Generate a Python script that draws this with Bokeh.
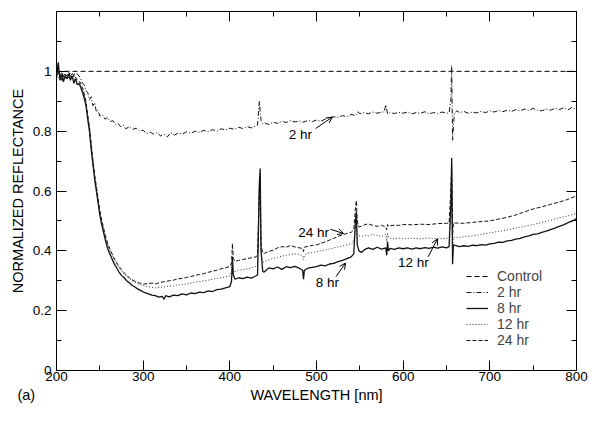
from bokeh.plotting import figure
from bokeh.models import (Range1d, LinearAxis, FixedTicker, Legend, LegendItem,
                          Label, Arrow, OpenHead)
from bokeh.embed import file_html
from bokeh.resources import INLINE

FONT = "Liberation Sans"

# ---------------- data ----------------
control_wl = [200, 800]
control_r = [1.0, 1.0]

hr2_wl = [200, 202, 204, 206, 208, 210, 212, 214, 216, 218, 220, 222, 224, 226, 228, 230,
          232, 234, 236, 238, 240, 242, 244, 246, 248, 250, 253, 256, 259, 262, 265, 268,
          271, 274, 277, 280, 284, 288, 292, 296, 300, 304, 308, 312, 316, 320, 324, 328,
          332, 336, 340, 345, 350, 355, 360, 365, 370, 375, 380, 385, 390, 395, 400, 405,
          410, 415, 420, 425, 430, 432, 434, 436, 438, 440, 445, 450, 455, 460, 465, 470,
          475, 480, 485, 490, 495, 500, 505, 510, 515, 520, 525, 530, 535, 540, 545, 548,
          550, 555, 560, 565, 570, 575, 578, 580, 582, 585, 590, 595, 600, 605, 610, 615,
          620, 625, 630, 635, 640, 645, 650, 653, 655, 656, 657, 659, 662, 665, 670, 675,
          680, 685, 690, 695, 700, 705, 710, 715, 720, 725, 730, 735, 740, 745, 750, 755,
          760, 765, 770, 775, 780, 785, 790, 795, 800]
hr2_r = [0.99, 1.01, 0.98, 0.995, 0.975, 0.99, 0.985, 1.0, 0.98, 0.995, 0.985, 1.0, 0.99, 0.985, 0.975, 0.96,
         0.955, 0.935, 0.93, 0.905, 0.915, 0.885, 0.895, 0.865, 0.87, 0.85, 0.855, 0.84, 0.845, 0.832, 0.835, 0.822,
         0.826, 0.815, 0.82, 0.808, 0.815, 0.806, 0.81, 0.80, 0.803, 0.792, 0.797, 0.79, 0.795, 0.784, 0.79, 0.781,
         0.795, 0.787, 0.793, 0.79, 0.798, 0.793, 0.80, 0.796, 0.803, 0.798, 0.805, 0.80, 0.808, 0.804, 0.81, 0.806,
         0.813, 0.809, 0.815, 0.811, 0.818, 0.82, 0.90, 0.835, 0.825, 0.828, 0.822, 0.83, 0.826, 0.833, 0.829, 0.835,
         0.831, 0.834, 0.83, 0.836, 0.832, 0.837, 0.833, 0.84, 0.845, 0.848, 0.846, 0.852, 0.849, 0.856, 0.852, 0.865,
         0.858, 0.862, 0.858, 0.864, 0.86, 0.863, 0.865, 0.888, 0.858, 0.862, 0.859, 0.863, 0.86, 0.864, 0.858, 0.862,
         0.86, 0.865, 0.858, 0.862, 0.859, 0.864, 0.86, 0.862, 0.90, 1.02, 0.77, 0.86, 0.868, 0.862, 0.866, 0.86,
         0.864, 0.861, 0.866, 0.862, 0.868, 0.864, 0.869, 0.865, 0.87, 0.866, 0.872, 0.868, 0.874, 0.869, 0.876, 0.87,
         0.868, 0.874, 0.87, 0.876, 0.872, 0.878, 0.871, 0.88, 0.872]

hr8_wl = [200, 202, 204, 206, 208, 210, 212, 214, 216, 218, 220, 222, 224, 226, 228, 230,
          232, 234, 236, 238, 240, 242, 244, 246, 248, 250, 252, 254, 256, 258, 260, 263,
          266, 269, 272, 275, 278, 281, 284, 287, 290, 294, 298, 302, 306, 310, 314, 318,
          322, 324, 326, 330, 335, 340, 345, 350, 355, 360, 365, 370, 375, 380, 385, 390,
          395, 400, 402, 403, 404, 406, 410, 415, 420, 425, 430, 432, 434, 435, 436, 438,
          440, 445, 450, 455, 460, 465, 470, 475, 480, 484, 485, 486, 490, 495, 500, 505,
          510, 515, 520, 525, 530, 535, 540, 543, 545, 546, 547, 549, 552, 556, 560, 565,
          570, 575, 580, 581, 582, 583, 585, 590, 595, 600, 605, 610, 615, 620, 625, 630,
          635, 640, 645, 650, 653, 655, 656, 657, 658, 660, 665, 670, 675, 680, 685, 690,
          695, 700, 705, 710, 715, 720, 725, 730, 735, 740, 745, 750, 755, 760, 765, 770,
          775, 780, 785, 790, 795, 800]
hr8_r = [0.98, 1.03, 0.97, 0.99, 0.965, 0.985, 0.975, 0.99, 0.97, 0.985, 0.96, 0.975, 0.955, 0.96, 0.945, 0.93,
         0.91, 0.885, 0.84, 0.80, 0.74, 0.69, 0.64, 0.60, 0.56, 0.52, 0.49, 0.465, 0.44, 0.418, 0.40, 0.38,
         0.36, 0.345, 0.33, 0.318, 0.31, 0.30, 0.293, 0.285, 0.28, 0.272, 0.266, 0.26, 0.256, 0.252, 0.25, 0.245,
         0.248, 0.238, 0.25, 0.246, 0.252, 0.25, 0.256, 0.253, 0.259, 0.257, 0.262, 0.26, 0.266, 0.264, 0.27, 0.272,
         0.276, 0.28, 0.30, 0.38, 0.32, 0.305, 0.31, 0.307, 0.312, 0.309, 0.316, 0.32, 0.62, 0.675, 0.40, 0.33,
         0.33, 0.343, 0.34, 0.346, 0.338, 0.347, 0.344, 0.348, 0.342, 0.335, 0.305, 0.335, 0.342, 0.345, 0.347, 0.352,
         0.35, 0.356, 0.358, 0.364, 0.368, 0.374, 0.38, 0.39, 0.50, 0.53, 0.42, 0.40, 0.395, 0.405, 0.41, 0.405,
         0.412, 0.406, 0.41, 0.385, 0.43, 0.40, 0.408, 0.405, 0.41, 0.407, 0.41, 0.406, 0.41, 0.407, 0.411, 0.408,
         0.412, 0.409, 0.413, 0.41, 0.414, 0.55, 0.71, 0.355, 0.42, 0.418, 0.414, 0.417, 0.415, 0.419, 0.417, 0.421,
         0.419, 0.423, 0.425, 0.429, 0.428, 0.433, 0.435, 0.439, 0.442, 0.447, 0.45, 0.455, 0.457, 0.462, 0.466, 0.471,
         0.476, 0.482, 0.487, 0.494, 0.499, 0.508]

hr12_wl = [200, 203, 206, 209, 212, 215, 218, 221, 224, 227, 230, 232, 234, 236, 238, 240,
           242, 244, 246, 248, 250, 252, 254, 256, 258, 260, 263, 266, 269, 272, 275, 278,
           281, 284, 287, 290, 295, 300, 305, 310, 315, 320, 325, 330, 335, 340, 345, 350,
           355, 360, 365, 370, 375, 380, 385, 390, 395, 400, 402, 403, 404, 406, 410, 415,
           420, 425, 430, 432, 434, 435, 436, 438, 440, 445, 450, 455, 460, 465, 470, 475,
           480, 484, 485, 486, 490, 495, 500, 505, 510, 515, 520, 525, 530, 535, 540, 543,
           545, 546, 547, 549, 552, 556, 560, 565, 570, 575, 580, 581, 582, 583, 585, 590,
           595, 600, 610, 620, 630, 640, 650, 653, 655, 656, 657, 658, 660, 670, 680, 690,
           700, 710, 720, 730, 740, 750, 760, 770, 780, 790, 800]
hr12_r = [0.99, 0.975, 1.0, 0.98, 0.99, 0.975, 0.99, 0.97, 0.965, 0.955, 0.94, 0.92, 0.895, 0.85, 0.81, 0.755,
          0.70, 0.65, 0.61, 0.57, 0.53, 0.50, 0.475, 0.45, 0.43, 0.412, 0.392, 0.372, 0.357, 0.344, 0.332, 0.323,
          0.314, 0.307, 0.30, 0.295, 0.288, 0.284, 0.28, 0.278, 0.276, 0.278, 0.28, 0.283, 0.282, 0.286, 0.287, 0.29,
          0.292, 0.295, 0.297, 0.30, 0.302, 0.305, 0.308, 0.31, 0.313, 0.316, 0.33, 0.36, 0.335, 0.33, 0.335, 0.337,
          0.34, 0.343, 0.348, 0.35, 0.58, 0.60, 0.39, 0.36, 0.365, 0.37, 0.375, 0.378, 0.382, 0.385, 0.388, 0.39,
          0.388, 0.383, 0.37, 0.385, 0.392, 0.394, 0.397, 0.40, 0.403, 0.406, 0.41, 0.413, 0.416, 0.42, 0.424, 0.43,
          0.50, 0.52, 0.46, 0.45, 0.448, 0.452, 0.45, 0.455, 0.452, 0.448, 0.455, 0.43, 0.46, 0.445, 0.442, 0.44,
          0.443, 0.44, 0.442, 0.44, 0.443, 0.44, 0.442, 0.443, 0.55, 0.65, 0.40, 0.445, 0.444, 0.447, 0.45, 0.455,
          0.46, 0.465, 0.47, 0.476, 0.482, 0.488, 0.495, 0.502, 0.51, 0.517, 0.525]

hr24_wl = [200, 203, 206, 209, 212, 215, 218, 221, 224, 227, 230, 232, 234, 236, 238, 240,
           242, 244, 246, 248, 250, 252, 254, 256, 258, 260, 263, 266, 269, 272, 275, 278,
           281, 284, 287, 290, 295, 300, 305, 310, 315, 320, 325, 330, 335, 340, 345, 350,
           355, 360, 365, 370, 375, 380, 385, 390, 395, 400, 402, 403, 404, 406, 410, 415,
           420, 425, 430, 432, 434, 435, 436, 438, 440, 445, 450, 455, 460, 465, 470, 475,
           480, 484, 485, 486, 490, 495, 500, 505, 510, 515, 520, 525, 530, 535, 540, 543,
           545, 546, 547, 549, 552, 556, 560, 565, 570, 575, 580, 581, 582, 583, 585, 590,
           595, 600, 610, 620, 630, 640, 650, 653, 655, 656, 657, 658, 660, 670, 680, 690,
           700, 710, 720, 730, 740, 750, 760, 770, 780, 790, 800]
hr24_r = [0.985, 1.0, 0.97, 0.99, 0.975, 0.995, 0.98, 0.985, 0.97, 0.965, 0.945, 0.925, 0.90, 0.855, 0.815, 0.76,
          0.705, 0.655, 0.615, 0.575, 0.535, 0.505, 0.48, 0.455, 0.435, 0.418, 0.397, 0.378, 0.362, 0.349, 0.337, 0.327,
          0.318, 0.311, 0.304, 0.299, 0.293, 0.289, 0.29, 0.292, 0.29, 0.295, 0.297, 0.30, 0.302, 0.306, 0.308, 0.311,
          0.314, 0.318, 0.321, 0.324, 0.328, 0.332, 0.335, 0.34, 0.343, 0.348, 0.36, 0.425, 0.375, 0.365, 0.368, 0.371,
          0.374, 0.377, 0.38, 0.385, 0.60, 0.65, 0.42, 0.392, 0.392, 0.398, 0.402, 0.41, 0.414, 0.412, 0.418, 0.413,
          0.41, 0.408, 0.398, 0.412, 0.415, 0.418, 0.42, 0.425, 0.43, 0.436, 0.442, 0.448, 0.454, 0.458, 0.462, 0.47,
          0.545, 0.568, 0.50, 0.48, 0.482, 0.488, 0.49, 0.485, 0.482, 0.485, 0.48, 0.47, 0.488, 0.482, 0.484, 0.486,
          0.485, 0.488, 0.487, 0.489, 0.488, 0.491, 0.492, 0.493, 0.60, 0.68, 0.45, 0.494, 0.493, 0.492, 0.495, 0.498,
          0.50, 0.506, 0.512, 0.52, 0.53, 0.54, 0.547, 0.555, 0.563, 0.572, 0.584]

series_names = ["Control", "2 hr", "8 hr", "12 hr", "24 hr"]

x_ticks = [200, 300, 400, 500, 600, 700, 800]
x_minor = [250, 350, 450, 550, 650, 750]
y_ticks = [0, 0.2, 0.4, 0.6, 0.8, 1.0, 1.2]
y_minor = [0.1, 0.3, 0.5, 0.7, 0.9, 1.1]
y_tick_labels = {0: "0", 0.2: "0.2", 0.4: "0.4", 0.6: "0.6", 0.8: "0.8", 1.0: "1", 1.2: ""}

x_title = "WAVELENGTH [nm]"
y_title = "NORMALIZED REFLECTANCE"
panel_tag = "(a)"
# bottom row texts: the panel tag sits at the left end, the x title in the middle
title_row_at = [200, 500]

# annotation texts and arrows
ann_text = ["2 hr", "24 hr", "8 hr", "12 hr"]
ann_x = [468, 479, 499, 594]
ann_y = [0.79, 0.461, 0.293, 0.361]
arr_x0 = [499, 516, 522.6, 628.8]
arr_y0 = [0.809, 0.472, 0.314, 0.38]
arr_x1 = [518.3, 531.3, 533.5, 639.6]
arr_y1 = [0.847, 0.458, 0.359, 0.44]

# ---------------- figure ----------------
p = figure(width=589, height=408, output_backend="svg", toolbar_location=None,
           x_range=Range1d(200, 800), y_range=Range1d(0, 1.2),
           min_border_left=56, min_border_right=13, min_border_top=11, min_border_bottom=38,
           background_fill_color="white", border_fill_color="white")
p.grid.visible = False
p.outline_line_color = "black"
p.outline_line_width = 1

def style_axis(ax, show_labels=True):
    ax.major_tick_in = 10
    ax.major_tick_out = 0
    ax.minor_tick_in = 5
    ax.minor_tick_out = 0
    ax.axis_line_color = "black"
    ax.major_tick_line_color = "black"
    ax.minor_tick_line_color = "black"
    ax.major_label_text_font = FONT
    ax.major_label_text_color = "black"
    ax.axis_label_text_font = FONT
    ax.axis_label_text_font_style = "normal"
    ax.axis_label_text_color = "black"
    if not show_labels:
        ax.major_label_text_font_size = "1px"
        ax.major_label_text_color = None
        ax.major_label_standoff = 0

p.xaxis.ticker = FixedTicker(ticks=x_ticks, minor_ticks=x_minor)
p.yaxis.ticker = FixedTicker(ticks=y_ticks, minor_ticks=y_minor)
for ax in p.xaxis:
    style_axis(ax)
    ax.major_label_text_font_size = "13.5px"
    ax.major_label_standoff = 1
for ax in p.yaxis:
    style_axis(ax)
    ax.major_label_text_font_size = "13.5px"
    ax.major_label_standoff = 5
    ax.major_label_overrides = y_tick_labels
    ax.axis_label = y_title
    ax.axis_label_text_font_size = "14.5px"
    ax.axis_label_standoff = 4

# second row under the x axis: "(a)" on the far left and the axis title centred
title_row = LinearAxis(ticker=FixedTicker(ticks=title_row_at, minor_ticks=[]),
                       major_label_overrides={title_row_at[0]: panel_tag + "\u00a0" * 15,
                                              title_row_at[1]: x_title})
title_row.major_tick_in = 0
title_row.major_tick_out = 0
title_row.minor_tick_in = 0
title_row.minor_tick_out = 0
title_row.axis_line_color = None
title_row.major_tick_line_color = None
title_row.minor_tick_line_color = None
title_row.major_label_text_font = FONT
title_row.major_label_text_font_size = "14.5px"
title_row.major_label_text_color = "black"
title_row.major_label_standoff = 3
p.add_layout(title_row, "below")

top = LinearAxis(ticker=FixedTicker(ticks=x_ticks, minor_ticks=x_minor))
style_axis(top, show_labels=False)
p.add_layout(top, "above")
right = LinearAxis(ticker=FixedTicker(ticks=y_ticks, minor_ticks=y_minor))
style_axis(right, show_labels=False)
p.add_layout(right, "right")

r_c = p.line(control_wl, control_r, line_color="black", line_width=1, line_dash="5 3")
r_2 = p.line(hr2_wl, hr2_r, line_color="#111111", line_width=1, line_dash="5 2 1 2")
r_8 = p.line(hr8_wl, hr8_r, line_color="#111111", line_width=1.3)
r_12 = p.line(hr12_wl, hr12_r, line_color="#333333", line_width=1, line_dash="1 2")
r_24 = p.line(hr24_wl, hr24_r, line_color="#111111", line_width=1, line_dash="4 2")

legend = Legend(items=[LegendItem(label=n, renderers=[r]) for n, r in
                       zip(series_names, [r_c, r_2, r_8, r_12, r_24])],
                location=(410, 22), padding=0, margin=0, spacing=0,
                glyph_width=22, glyph_height=16, label_height=16, label_standoff=9,
                label_text_font=FONT, label_text_font_size="14px",
                border_line_alpha=0, background_fill_alpha=0)
p.add_layout(legend, "center")

for t, x, y in zip(ann_text, ann_x, ann_y):
    p.add_layout(Label(x=x, y=y, text=t, text_font=FONT, text_font_size="13.5px",
                       text_align="left", text_baseline="middle", text_color="black"))
for x0, y0, x1, y1 in zip(arr_x0, arr_y0, arr_x1, arr_y1):
    p.add_layout(Arrow(end=OpenHead(size=6, line_width=1, line_color="black"),
                       x_start=x0, y_start=y0, x_end=x1, y_end=y1,
                       line_width=1, line_color="black"))

open("out.html", "w").write(file_html(p, INLINE))
